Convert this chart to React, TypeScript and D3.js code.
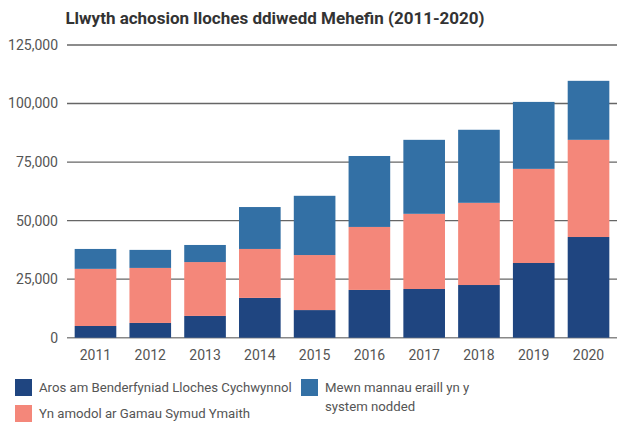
import React, { useEffect, useRef } from 'react';
import * as d3 from 'd3';

const years = ['2011', '2012', '2013', '2014', '2015', '2016', '2017', '2018', '2019', '2020'];
// Aros am Benderfyniad Lloches Cychwynnol
const initialDecision = [5000, 6300, 9300, 17000, 11800, 20400, 20800, 22500, 31900, 43000];
// Yn amodol ar Gamau Symud Ymaith
const removalAction = [24400, 23500, 23000, 20900, 23500, 26900, 32100, 35100, 40200, 41500];
// Mewn mannau eraill yn y system nodded
const elsewhere = [8500, 7700, 7300, 17900, 25300, 30300, 31600, 31200, 28600, 25200];
const yTicks = [0, 25000, 50000, 75000, 100000, 125000];

const seriesKeys = ['initial', 'removal', 'elsewhere'];
const colors = ['#1f4580', '#f4877a', '#3370a5'];

const App = () => {
    const svgRef = useRef<SVGSVGElement>(null);

    useEffect(() => {
        const width = 617;
        const height = 423;
        const margin = { top: 45, right: 0, bottom: 85, left: 67 };

        const svg = d3.select(svgRef.current);
        svg.selectAll('*').remove();

        const rows = years.map((y, i) => ({
            year: y,
            initial: initialDecision[i],
            removal: removalAction[i],
            elsewhere: elsewhere[i],
        }));

        const stack = d3.stack<any>().keys(seriesKeys)(rows);

        const x = d3.scaleBand()
            .domain(years)
            .range([margin.left, width - margin.right])
            .paddingInner(0.24)
            .paddingOuter(0.14);

        const y = d3.scaleLinear()
            .domain([0, 125000])
            .range([height - margin.bottom - 0.3, margin.top]);

        const font = 'Roboto, "Noto Sans", sans-serif';

        // gridlines
        svg.append('g')
            .selectAll('line')
            .data(yTicks)
            .enter()
            .append('line')
            .attr('x1', margin.left)
            .attr('x2', width)
            .attr('y1', d => y(d))
            .attr('y2', d => y(d))
            .attr('stroke', d => d === 0 ? '#888' : '#666')
            .attr('stroke-width', 1.4);

        // y tick labels
        svg.append('g')
            .selectAll('text')
            .data(yTicks)
            .enter()
            .append('text')
            .attr('x', 58)
            .attr('y', d => y(d))
            .attr('dy', '0.35em')
            .attr('text-anchor', 'end')
            .style('font-family', font)
            .style('font-size', '14px')
            .attr('fill', '#555')
            .text(d => d3.format(',')(d));

        // bars
        svg.append('g')
            .selectAll('g')
            .data(stack)
            .enter()
            .append('g')
            .attr('fill', (_, i) => colors[i])
            .selectAll('rect')
            .data(d => d)
            .enter()
            .append('rect')
            .attr('x', d => x(d.data.year)!)
            .attr('y', d => y(d[1]))
            .attr('width', x.bandwidth())
            .attr('height', d => y(d[0]) - y(d[1]));

        // x labels
        svg.append('g')
            .selectAll('text')
            .data(years)
            .enter()
            .append('text')
            .attr('x', d => x(d)! + x.bandwidth() / 2)
            .attr('y', 360)
            .attr('text-anchor', 'middle')
            .style('font-family', font)
            .style('font-size', '14px')
            .attr('fill', '#555')
            .text(d => d);

        // title
        svg.append('text')
            .attr('x', 275)
            .attr('y', 24)
            .attr('text-anchor', 'middle')
            .style('font-family', font)
            .style('font-size', '17px')
            .style('font-weight', 'bold')
            .attr('fill', '#333')
            .text('Llwyth achosion lloches ddiwedd Mehefin (2011-2020)');

        // legend
        const legend = [
            { label: ['Aros am Benderfyniad Lloches Cychwynnol'], color: colors[0], x: 15, y: 379 },
            { label: ['Yn amodol ar Gamau Symud Ymaith'], color: colors[1], x: 15, y: 405 },
            { label: ['Mewn mannau eraill yn y', 'system nodded'], color: colors[2], x: 301, y: 379 },
        ];
        const lg = svg.append('g')
            .selectAll('g')
            .data(legend)
            .enter()
            .append('g');
        lg.append('rect')
            .attr('x', d => d.x)
            .attr('y', d => d.y)
            .attr('width', 17)
            .attr('height', 17)
            .attr('fill', d => d.color);
        lg.append('text')
            .attr('x', d => d.x + 24)
            .attr('y', d => d.y + 13)
            .style('font-family', font)
            .style('font-size', '13.2px')
            .attr('fill', '#555')
            .selectAll('tspan')
            .data(d => d.label.map(t => ({ t, x: d.x + 24 })))
            .enter()
            .append('tspan')
            .attr('x', d => d.x)
            .attr('dy', (_, i) => i === 0 ? 0 : 19)
            .text(d => d.t);
    }, []);

    return (
        <div style={{ position: 'absolute', left: 0, top: 0 }}>
            <svg ref={svgRef} width={617} height={423} style={{ display: 'block', background: '#fff' }}></svg>
        </div>
    );
};

export default App;
